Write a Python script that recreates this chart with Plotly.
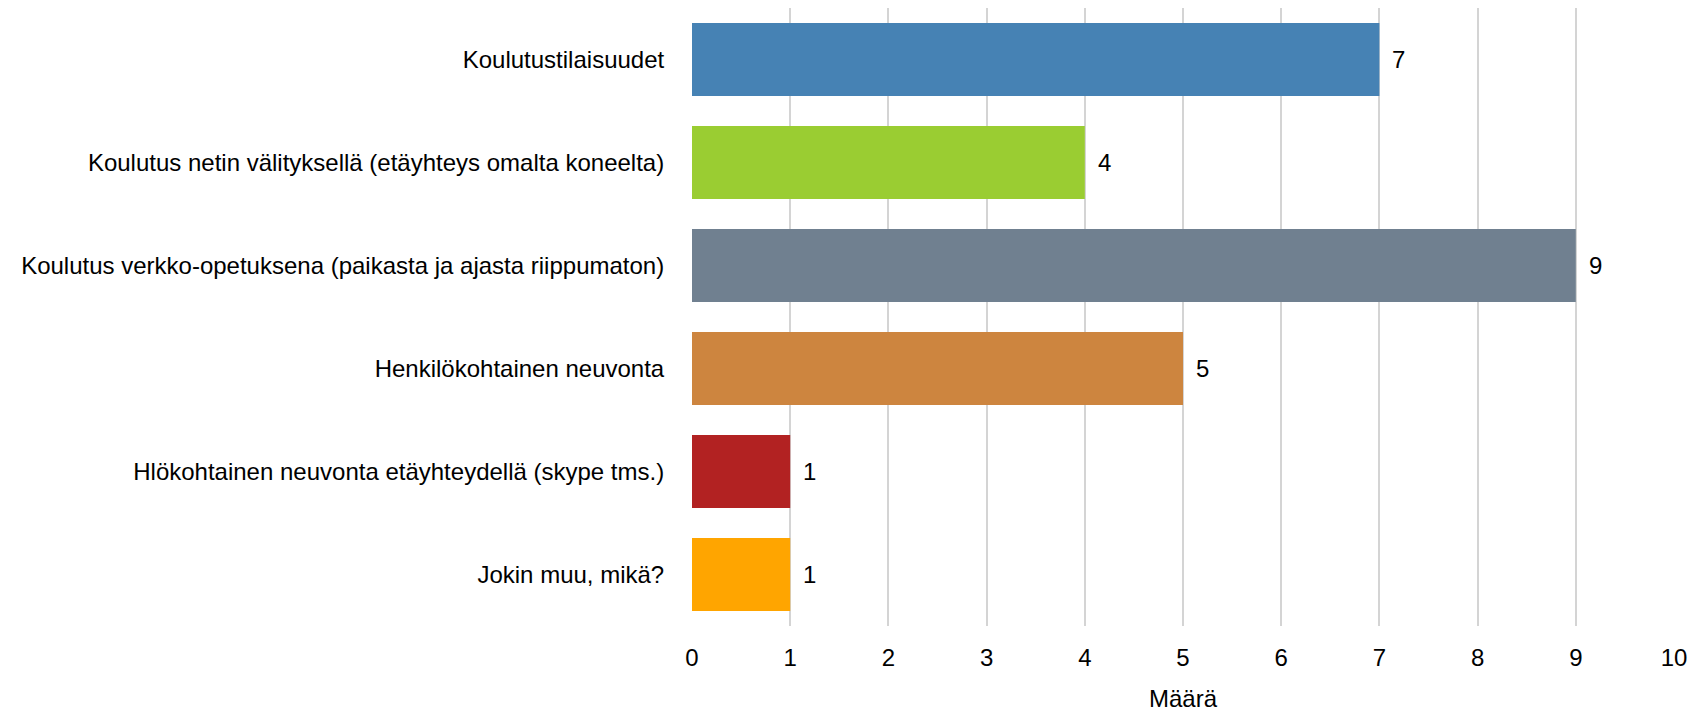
import plotly.graph_objects as go

categories = [
    "Koulutustilaisuudet",
    "Koulutus netin välityksellä (etäyhteys omalta koneelta)",
    "Koulutus verkko-opetuksena (paikasta ja ajasta riippumaton)",
    "Henkilökohtainen neuvonta",
    "Hlökohtainen neuvonta etäyhteydellä (skype tms.)",
    "Jokin muu, mikä?",
]
values = [7, 4, 9, 5, 1, 1]
colors = ["#4682b4", "#9acd32", "#708090", "#cd853f", "#b22222", "#ffa500"]
x_title = "Määrä"
tick_vals = list(range(0, 11))

FONT = "Liberation Sans, Arial, sans-serif"

fig = go.Figure()
fig.add_trace(go.Bar(
    x=values, y=categories, orientation="h",
    marker=dict(color=colors, line=dict(width=0)),
    hoverinfo="skip",
))

for c, v in zip(categories, values):
    fig.add_annotation(x=v, y=c, text=str(v), showarrow=False,
                       xanchor="left", xshift=11,
                       font=dict(family=FONT, size=24, color="#000000"))

fig.update_layout(
    width=1703, height=714,
    margin=dict(l=684, r=37, t=0, b=96),
    paper_bgcolor="white", plot_bgcolor="white",
    bargap=0.29,
    showlegend=False,
    font=dict(family=FONT, size=24, color="#000000"),
)
fig.update_xaxes(
    range=[0, 10], tickvals=tick_vals, showgrid=True, automargin=False,
    gridcolor="#d4d4d4", gridwidth=2, zeroline=False,
    showline=False, ticks="outside", ticklen=10, tickcolor="rgba(0,0,0,0)",
    title=dict(text=x_title, standoff=20, font=dict(size=24)),
    tickfont=dict(size=24),
)
fig.update_yaxes(
    autorange="reversed", showgrid=False, zeroline=False, showline=False,
    automargin=False,
    ticks="outside", ticklen=22, tickcolor="rgba(0,0,0,0)",
    tickfont=dict(size=24),
)

fig.write_html("out.html")
